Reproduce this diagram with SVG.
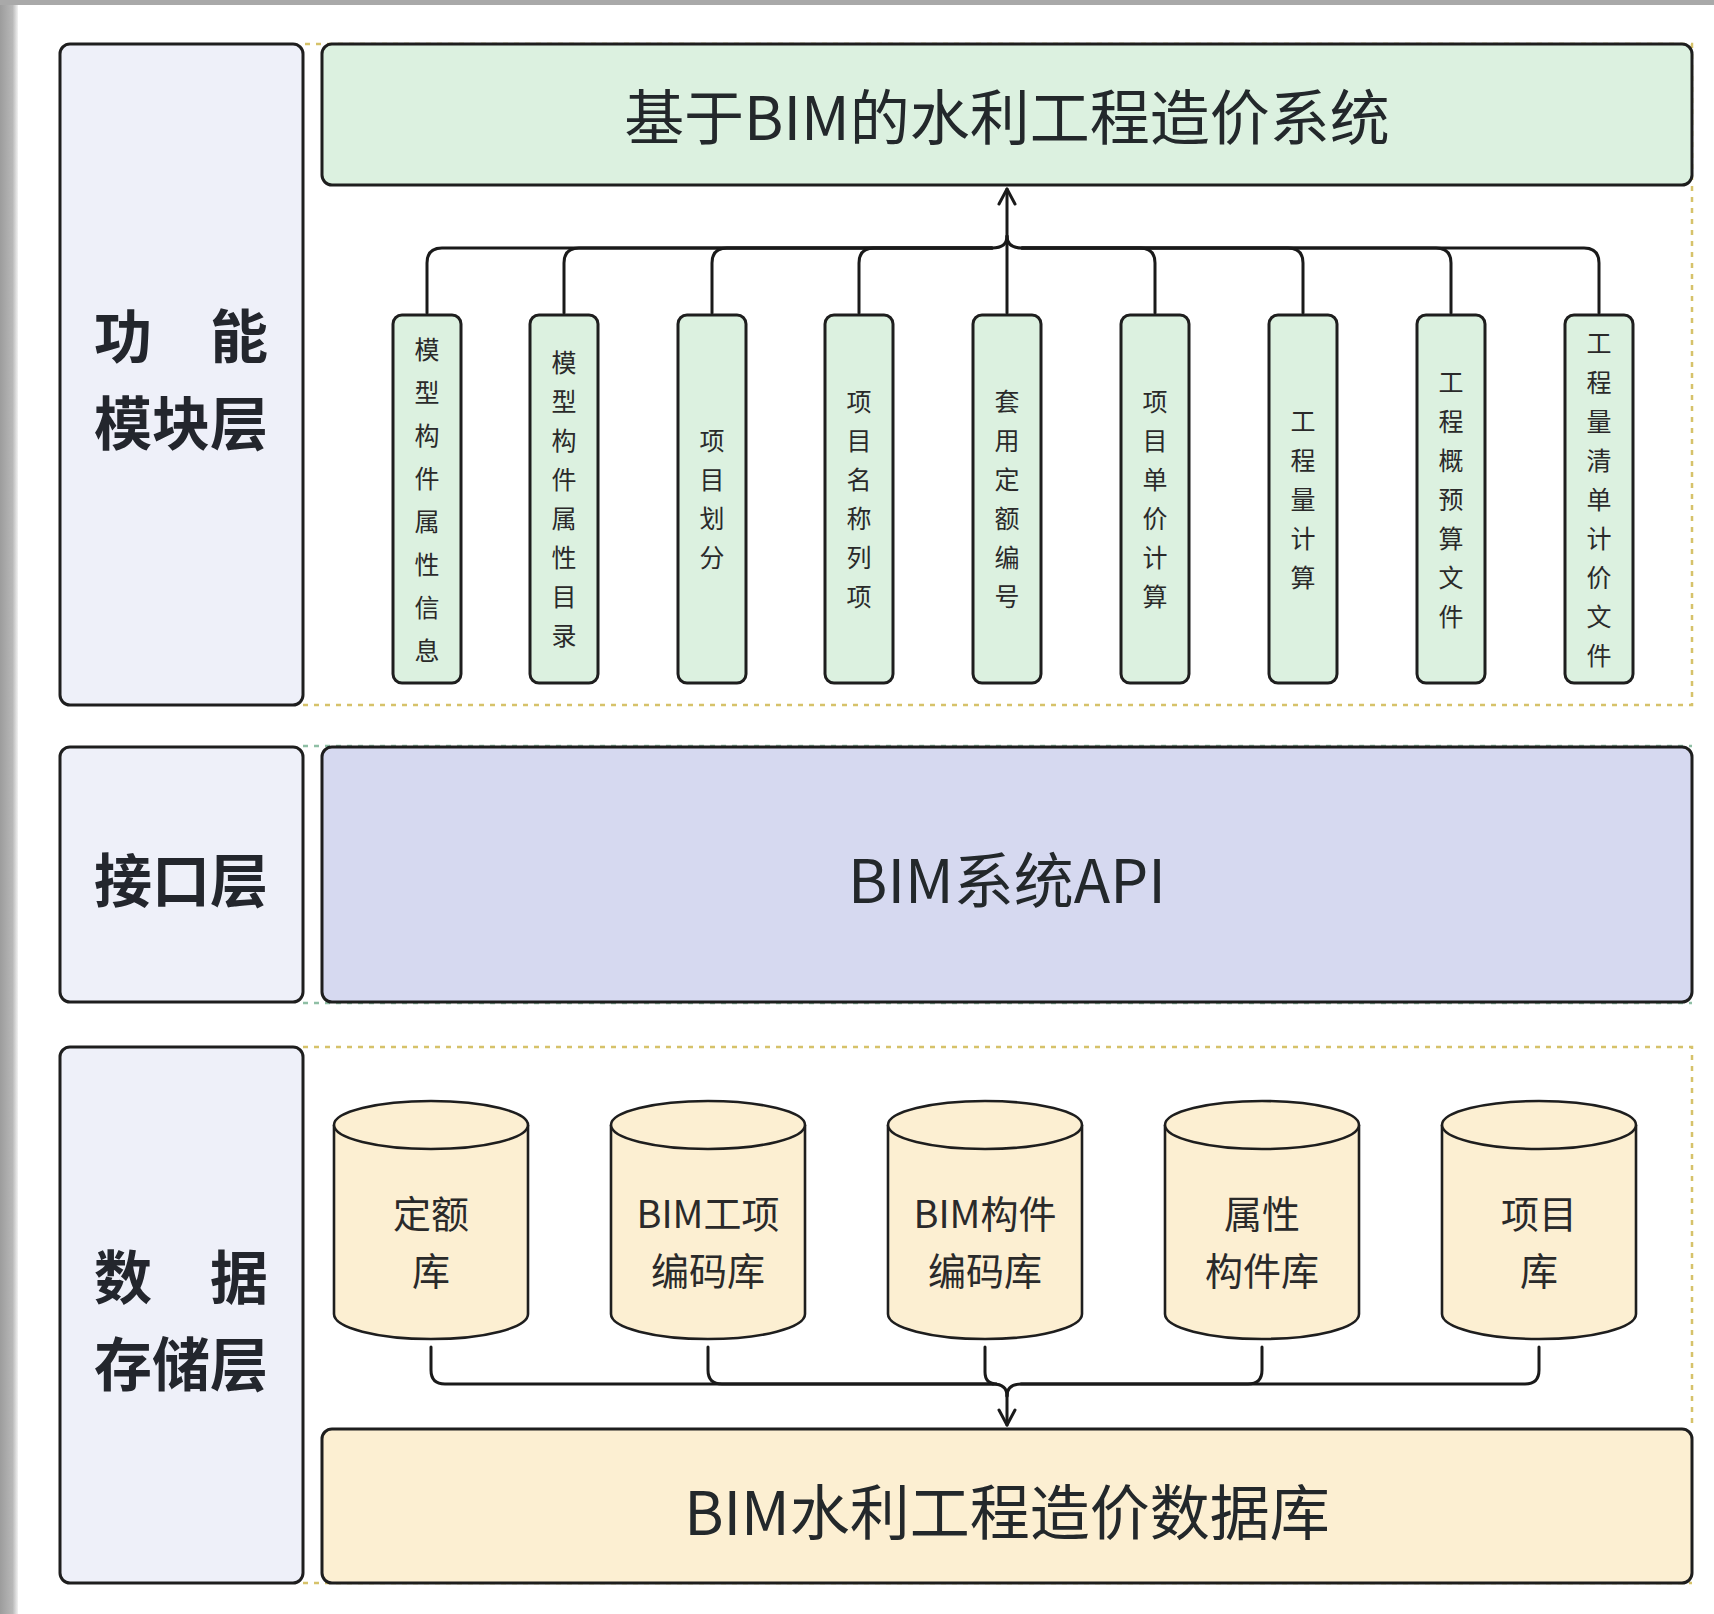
<svg xmlns="http://www.w3.org/2000/svg" width="1714" height="1614" viewBox="0 0 1714 1614">
<defs>
<linearGradient id="shadeL" x1="0" y1="0" x2="1" y2="0">
<stop offset="0" stop-color="#9c9c9c"/>
<stop offset="0.7" stop-color="#b8b8b8"/>
<stop offset="1" stop-color="#f2f2f2"/>
</linearGradient>
<marker id="arrow" viewBox="0 0 20 20" refX="18" refY="10" markerWidth="20" markerHeight="20" markerUnits="userSpaceOnUse" orient="auto">
<path d="M3,2 L18,10 L3,18" fill="none" stroke="#1a1a1a" stroke-width="3" stroke-linecap="round" stroke-linejoin="round"/>
</marker>
<style>
.panel{fill:#eef0f9;stroke:#1e1e1e;stroke-width:3}
.green{fill:#dcf1e0;stroke:#1e1e1e;stroke-width:3}
.purple{fill:#d6d9f0;stroke:#1e1e1e;stroke-width:3}
.cream{fill:#fcefd2;stroke:#1e1e1e;stroke-width:3}
.cyl{fill:#fcefd2;stroke:#1e1e1e;stroke-width:2.6}
.dash{fill:none;stroke:#d6c26a;stroke-width:2.5;stroke-dasharray:5 6}
.dashg{fill:none;stroke:#8fbfa5;stroke-width:2.5;stroke-dasharray:5 6}
.conn{fill:none;stroke:#1a1a1a;stroke-width:3;stroke-linecap:round}
.lab{font-family:"Noto Sans CJK SC","Noto Sans",sans-serif;font-weight:700;font-size:58px;fill:#23262d;text-anchor:middle}
.big{font-family:"Noto Sans CJK SC","Noto Sans",sans-serif;font-weight:400;font-size:60px;fill:#23282b;text-anchor:middle}
.vt{font-family:"Noto Sans CJK SC",sans-serif;font-size:25px;fill:#2a2a2a;text-anchor:middle}
.ct{font-family:"Noto Sans CJK SC","Noto Sans",sans-serif;font-size:38px;fill:#2a2a2a;text-anchor:middle}
</style>
</defs>
<rect x="0" y="0" width="1714" height="1614" fill="#ffffff"/>
<rect x="0" y="0" width="18" height="1614" fill="url(#shadeL)"/>
<rect x="0" y="0" width="1714" height="5" fill="#a9a9a9"/>

<!-- layer containers (dashed) -->
<g id="containers">
<path class="dash" d="M305,44 H1692 V705 H303"/>
<path class="dashg" d="M303,746 H1692 M303,1003 H1692"/>
<path class="dash" d="M303,1047 H1692 V1429 M303,1583 H1692"/>
</g>

<!-- left layer labels -->
<g id="layer-function">
<rect class="panel" x="60" y="44" width="243" height="661" rx="10"/>
<text class="lab" x="181" y="358">功　能</text>
<text class="lab" x="181" y="445">模块层</text>
</g>
<g id="layer-interface">
<rect class="panel" x="60" y="747" width="243" height="255" rx="10"/>
<text class="lab" x="181" y="902">接口层</text>
</g>
<g id="layer-storage">
<rect class="panel" x="60" y="1047" width="243" height="536" rx="10"/>
<text class="lab" x="181" y="1299">数　据</text>
<text class="lab" x="181" y="1386">存储层</text>
</g>

<!-- connectors -->
<g id="connectors">
<path class="conn" d="M427,313 V263 Q427,248 442,248 H992 Q1007,248 1007,236"/>
<path class="conn" d="M564,313 V263 Q564,248 579,248 H992"/>
<path class="conn" d="M712,313 V263 Q712,248 727,248 H992"/>
<path class="conn" d="M859,313 V263 Q859,248 874,248 H992"/>
<path class="conn" d="M1155,313 V263 Q1155,248 1140,248 H1022"/>
<path class="conn" d="M1303,313 V263 Q1303,248 1288,248 H1022"/>
<path class="conn" d="M1451,313 V263 Q1451,248 1436,248 H1022"/>
<path class="conn" d="M1599,313 V263 Q1599,248 1584,248 H1022 Q1007,248 1007,236"/>
<path class="conn" d="M1007,313 V189" marker-end="url(#arrow)"/>

<path class="conn" d="M431,1347 V1370 Q431,1384 445,1384 H993 Q1007,1384 1007,1396"/>
<path class="conn" d="M708,1347 V1370 Q708,1384 722,1384 H993"/>
<path class="conn" d="M985,1347 V1372 Q985,1384 997,1384 H993"/>
<path class="conn" d="M1262,1347 V1370 Q1262,1384 1248,1384 H1021"/>
<path class="conn" d="M1539,1347 V1370 Q1539,1384 1525,1384 H1021 Q1007,1384 1007,1396"/>
<path class="conn" d="M1007,1392 V1425" marker-end="url(#arrow)"/>
</g>

<!-- top system -->
<g id="system">
<rect class="green" x="322" y="44" width="1370" height="141" rx="10"/>
<text class="big" x="1007" y="140">基于BIM的水利工程造价系统</text>
</g>

<!-- function modules -->
<g id="m1"><rect class="green" x="393" y="315" width="68" height="368" rx="9"/>
<text class="vt"><tspan x="427" y="359">模</tspan><tspan x="427" y="402">型</tspan><tspan x="427" y="445">构</tspan><tspan x="427" y="488">件</tspan><tspan x="427" y="531">属</tspan><tspan x="427" y="574">性</tspan><tspan x="427" y="617">信</tspan><tspan x="427" y="660">息</tspan></text></g>
<g id="m2"><rect class="green" x="530" y="315" width="68" height="368" rx="9"/>
<text class="vt"><tspan x="564" y="372">模</tspan><tspan x="564" y="411">型</tspan><tspan x="564" y="450">构</tspan><tspan x="564" y="489">件</tspan><tspan x="564" y="528">属</tspan><tspan x="564" y="567">性</tspan><tspan x="564" y="606">目</tspan><tspan x="564" y="645">录</tspan></text></g>
<g id="m3"><rect class="green" x="678" y="315" width="68" height="368" rx="9"/>
<text class="vt"><tspan x="712" y="450">项</tspan><tspan x="712" y="489">目</tspan><tspan x="712" y="528">划</tspan><tspan x="712" y="567">分</tspan></text></g>
<g id="m4"><rect class="green" x="825" y="315" width="68" height="368" rx="9"/>
<text class="vt"><tspan x="859" y="411">项</tspan><tspan x="859" y="450">目</tspan><tspan x="859" y="489">名</tspan><tspan x="859" y="528">称</tspan><tspan x="859" y="567">列</tspan><tspan x="859" y="606">项</tspan></text></g>
<g id="m5"><rect class="green" x="973" y="315" width="68" height="368" rx="9"/>
<text class="vt"><tspan x="1007" y="411">套</tspan><tspan x="1007" y="450">用</tspan><tspan x="1007" y="489">定</tspan><tspan x="1007" y="528">额</tspan><tspan x="1007" y="567">编</tspan><tspan x="1007" y="606">号</tspan></text></g>
<g id="m6"><rect class="green" x="1121" y="315" width="68" height="368" rx="9"/>
<text class="vt"><tspan x="1155" y="411">项</tspan><tspan x="1155" y="450">目</tspan><tspan x="1155" y="489">单</tspan><tspan x="1155" y="528">价</tspan><tspan x="1155" y="567">计</tspan><tspan x="1155" y="606">算</tspan></text></g>
<g id="m7"><rect class="green" x="1269" y="315" width="68" height="368" rx="9"/>
<text class="vt"><tspan x="1303" y="431">工</tspan><tspan x="1303" y="470">程</tspan><tspan x="1303" y="509">量</tspan><tspan x="1303" y="548">计</tspan><tspan x="1303" y="587">算</tspan></text></g>
<g id="m8"><rect class="green" x="1417" y="315" width="68" height="368" rx="9"/>
<text class="vt"><tspan x="1451" y="392">工</tspan><tspan x="1451" y="431">程</tspan><tspan x="1451" y="470">概</tspan><tspan x="1451" y="509">预</tspan><tspan x="1451" y="548">算</tspan><tspan x="1451" y="587">文</tspan><tspan x="1451" y="626">件</tspan></text></g>
<g id="m9"><rect class="green" x="1565" y="315" width="68" height="368" rx="9"/>
<text class="vt"><tspan x="1599" y="353">工</tspan><tspan x="1599" y="392">程</tspan><tspan x="1599" y="431">量</tspan><tspan x="1599" y="470">清</tspan><tspan x="1599" y="509">单</tspan><tspan x="1599" y="548">计</tspan><tspan x="1599" y="587">价</tspan><tspan x="1599" y="626">文</tspan><tspan x="1599" y="665">件</tspan></text></g>

<!-- interface -->
<g id="api">
<rect class="purple" x="322" y="747" width="1370" height="255" rx="10"/>
<text class="big" x="1007" y="903">BIM系统API</text>
</g>

<!-- databases -->
<g id="db1">
<path class="cyl" d="M334,1125 V1314 A97,25 0 0 0 528,1314 V1125"/>
<ellipse class="cyl" cx="431" cy="1125" rx="97" ry="24"/>
<text class="ct" x="431" y="1228">定额</text><text class="ct" x="431" y="1285">库</text>
</g>
<g id="db2">
<path class="cyl" d="M611,1125 V1314 A97,25 0 0 0 805,1314 V1125"/>
<ellipse class="cyl" cx="708" cy="1125" rx="97" ry="24"/>
<text class="ct" x="708" y="1228">BIM工项</text><text class="ct" x="708" y="1285">编码库</text>
</g>
<g id="db3">
<path class="cyl" d="M888,1125 V1314 A97,25 0 0 0 1082,1314 V1125"/>
<ellipse class="cyl" cx="985" cy="1125" rx="97" ry="24"/>
<text class="ct" x="985" y="1228">BIM构件</text><text class="ct" x="985" y="1285">编码库</text>
</g>
<g id="db4">
<path class="cyl" d="M1165,1125 V1314 A97,25 0 0 0 1359,1314 V1125"/>
<ellipse class="cyl" cx="1262" cy="1125" rx="97" ry="24"/>
<text class="ct" x="1262" y="1228">属性</text><text class="ct" x="1262" y="1285">构件库</text>
</g>
<g id="db5">
<path class="cyl" d="M1442,1125 V1314 A97,25 0 0 0 1636,1314 V1125"/>
<ellipse class="cyl" cx="1539" cy="1125" rx="97" ry="24"/>
<text class="ct" x="1539" y="1228">项目</text><text class="ct" x="1539" y="1285">库</text>
</g>

<g id="database">
<rect class="cream" x="322" y="1429" width="1370" height="154" rx="10"/>
<text class="big" x="1007" y="1535">BIM水利工程造价数据库</text>
</g>
</svg>
